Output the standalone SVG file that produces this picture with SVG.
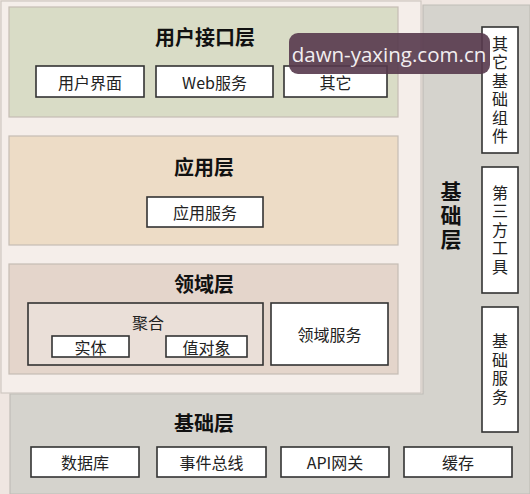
<svg xmlns="http://www.w3.org/2000/svg" width="530" height="494" viewBox="0 0 530 494">
<style>
text{font-family:"Noto Sans CJK SC","Liberation Sans",sans-serif;fill:#222;text-anchor:middle;dominant-baseline:central}
.title{font-size:20px;font-weight:bold;fill:#111}
.lbl{font-size:16px}
.box{fill:#fff;stroke:#333;stroke-width:1.6}
.layer{stroke:#c5bdb4;stroke-width:1.2}
.vt{font-size:16px;writing-mode:vertical-rl;text-orientation:upright;letter-spacing:2.5px}
.vtitle{font-size:21px;font-weight:bold;fill:#111;writing-mode:vertical-rl;text-orientation:upright;letter-spacing:3px}
</style>
<rect x="0" y="0" width="530" height="494" fill="#efe6e1"/>
<rect x="1" y="1" width="420" height="392" fill="#f5eeea" stroke="#cfc8c2" stroke-width="1.2"/>
<path d="M423 5 H530 V494 H10 V394 H423 Z" fill="#d5d3cd" stroke="#c0bdb7" stroke-width="1.2"/>

<g id="ui-layer">
<rect class="layer" x="9" y="7" width="389" height="110" fill="#d9dcc6"/>
<text class="title" x="205" y="36">用户接口层</text>
</g>
<g id="ui-1"><rect class="box" x="36" y="66" width="108" height="31"/><text class="lbl" x="90" y="81.5">用户界面</text></g>
<g id="ui-2"><rect class="box" x="156" y="66" width="117" height="31"/><text class="lbl" x="214.5" y="81.5">Web服务</text></g>
<g id="ui-3"><rect class="box" x="284" y="66" width="103" height="31"/><text class="lbl" x="335.5" y="81.5">其它</text></g>

<g id="app-layer">
<rect class="layer" x="9" y="136" width="389" height="109" fill="#eddcc6"/>
<text class="title" x="204" y="166">应用层</text>
</g>
<g id="app-svc"><rect class="box" x="147" y="197" width="116" height="30"/><text class="lbl" x="205" y="212">应用服务</text></g>

<g id="domain-layer">
<rect class="layer" x="9" y="264" width="389" height="110" fill="#e4d5cb"/>
<text class="title" x="204" y="283">领域层</text>
</g>
<g id="aggregate">
<rect x="28" y="303" width="235" height="62" fill="#eadfd8" stroke="#333" stroke-width="1.6"/>
<text class="lbl" x="148" y="322">聚合</text>
</g>
<g id="entity"><rect class="box" x="52" y="336" width="77" height="21"/><text class="lbl" x="90.5" y="346.5">实体</text></g>
<g id="value-object"><rect class="box" x="166" y="336" width="81" height="21"/><text class="lbl" x="206.5" y="346.5">值对象</text></g>
<g id="domain-svc"><rect class="box" x="271" y="303" width="117" height="62"/><text class="lbl" x="329.5" y="334">领域服务</text></g>

<g id="infra-layer">
<text class="title" x="204" y="422">基础层</text>
<text class="vtitle" x="451" y="217">基础层</text>
</g>
<g id="db"><rect class="box" x="31" y="447" width="108" height="30"/><text class="lbl" x="85" y="462">数据库</text></g>
<g id="bus"><rect class="box" x="157" y="447" width="109" height="30"/><text class="lbl" x="211.5" y="462">事件总线</text></g>
<g id="api"><rect class="box" x="281" y="447" width="108" height="30"/><text class="lbl" x="335" y="462">API网关</text></g>
<g id="cache"><rect class="box" x="404" y="447" width="108" height="30"/><text class="lbl" x="458" y="462">缓存</text></g>

<g id="other-infra"><rect class="box" x="482" y="27" width="36" height="126"/>
<text class="vt" x="500" y="91">其它基础组件</text></g>
<g id="third-party"><rect class="box" x="482" y="167" width="36" height="126"/>
<text class="vt" x="500" y="231">第三方工具</text></g>
<g id="infra-svc"><rect class="box" x="482" y="307" width="36" height="125"/>
<text class="vt" x="500" y="370">基础服务</text></g>

<g id="connectors"></g>

<g id="watermark">
<rect x="289" y="33" width="201" height="41" rx="9" fill="#56394d" fill-opacity="0.9"/>
<text x="389" y="54" style="font-family:'Open Sans','Noto Sans',sans-serif;font-size:20.5px;fill:#f2eef0">dawn-yaxing.com.cn</text>
</g>
</svg>
